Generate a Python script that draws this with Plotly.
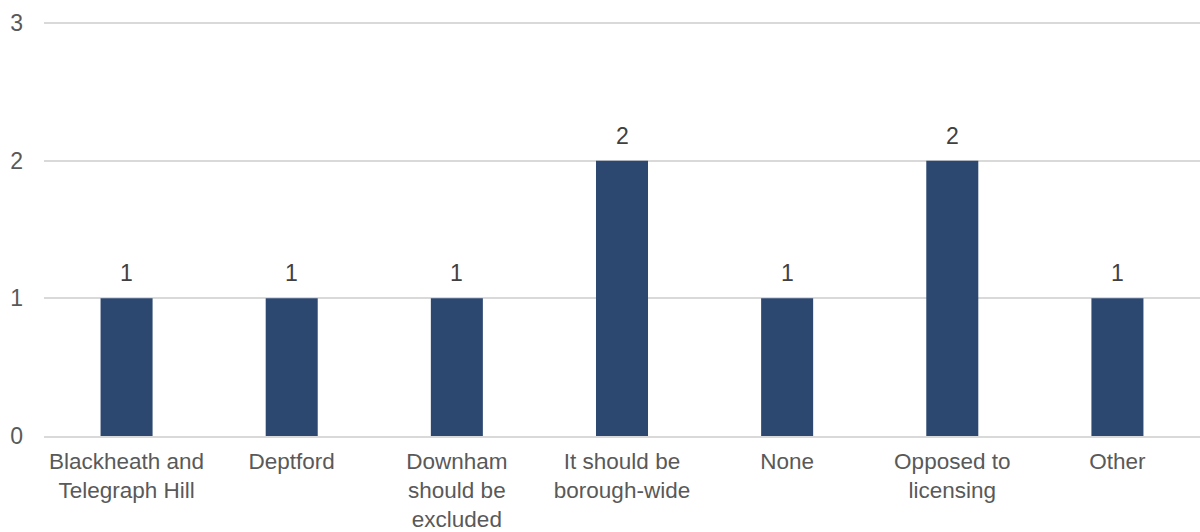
import plotly.graph_objects as go

categories = [
    "Blackheath and<br>Telegraph Hill",
    "Deptford",
    "Downham<br>should be<br>excluded",
    "It should be<br>borough-wide",
    "None",
    "Opposed to<br>licensing",
    "Other",
]
counts = [1, 1, 1, 2, 1, 2, 1]
y_ticks = [0, 1, 2, 3]

FONT = "Liberation Sans, Arial, sans-serif"

fig = go.Figure(
    go.Bar(
        x=categories,
        y=counts,
        marker=dict(color="#2c4870", line=dict(width=0)),
        hoverinfo="skip",
    )
)

# value labels above each bar
for cat, val in zip(categories, counts):
    fig.add_annotation(
        x=cat,
        y=val,
        text=str(val),
        showarrow=False,
        yanchor="bottom",
        yshift=10,
        font=dict(family=FONT, size=23, color="#404040"),
    )

fig.update_layout(
    width=1200,
    height=532,
    margin=dict(l=44, r=0, t=20, b=96),
    paper_bgcolor="white",
    plot_bgcolor="white",
    bargap=0.685,
    showlegend=False,
    font=dict(family=FONT, size=23, color="#595959"),
    xaxis=dict(
        showgrid=False,
        showline=True,
        linecolor="#d9d9d9",
        linewidth=1.5,
        ticks="",
        tickfont=dict(size=22.5, color="#595959"),
        ticklabelstandoff=4,
        automargin=False,
    ),
    yaxis=dict(
        range=[0, 3.022],
        tickvals=y_ticks,
        showgrid=True,
        gridcolor="#d9d9d9",
        gridwidth=1.5,
        zeroline=False,
        showline=False,
        ticks="",
        tickfont=dict(size=23, color="#595959"),
        ticklabelstandoff=20,
        automargin=False,
    ),
)

fig.write_html("out.html")
